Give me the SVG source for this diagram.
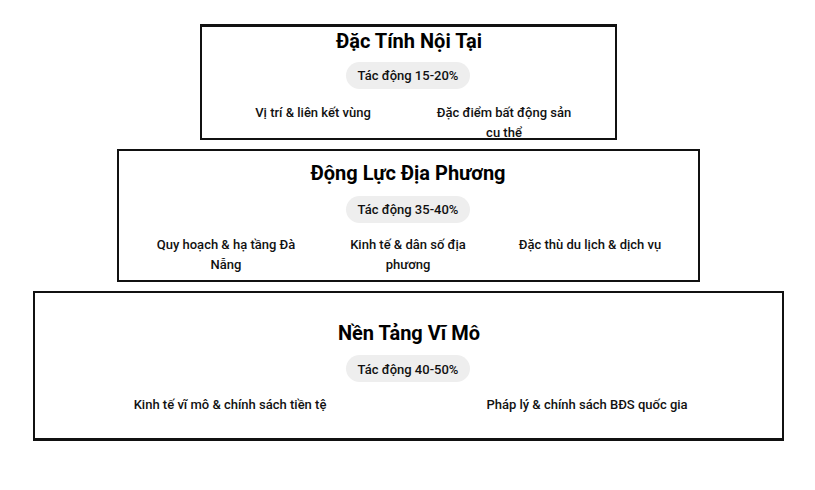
<svg xmlns="http://www.w3.org/2000/svg" width="815" height="490" viewBox="0 0 815 490">
<style>
.box{fill:#ffffff;stroke:#111111;stroke-width:2}
.edge{stroke:#111111;stroke-width:3}
.title{font-family:Roboto,"Noto Sans",sans-serif;font-size:20px;font-weight:700;fill:#000;text-anchor:middle}
.pill{fill:#eeeeee}
.badge{font-family:Roboto,"Noto Sans",sans-serif;font-size:13px;font-weight:500;fill:#111;text-anchor:middle}
.item{font-family:Roboto,"Noto Sans",sans-serif;font-size:13px;font-weight:500;fill:#111;text-anchor:middle}
</style>
<rect width="815" height="490" fill="#ffffff"/>
<g id="connectors"></g>
<g id="tier-top">
<rect class="box" x="201" y="26" width="415" height="113"/>
<line class="edge" x1="200" y1="25.5" x2="617" y2="25.5"/>
<text class="title" x="409" y="47.5">Đặc Tính Nội Tại</text>
<rect class="pill" x="346" y="62" width="124" height="27" rx="13.5"/>
<text class="badge" x="408" y="80">Tác động 15-20%</text>
<text class="item" x="313" y="117">Vị trí &amp; liên kết vùng</text>
<text class="item" x="504" y="117">Đặc điểm bất động sản</text>
<text class="item" x="504" y="137">cụ thể</text>
</g>
<g id="tier-middle">
<rect class="box" x="118" y="150" width="581" height="131"/>
<text class="title" x="408" y="179.5">Động Lực Địa Phương</text>
<rect class="pill" x="346" y="196" width="124" height="27" rx="13.5"/>
<text class="badge" x="408" y="214">Tác động 35-40%</text>
<text class="item" x="226" y="249">Quy hoạch &amp; hạ tầng Đà</text>
<text class="item" x="226" y="269">Nẵng</text>
<text class="item" x="408" y="249">Kinh tế &amp; dân số địa</text>
<text class="item" x="408" y="269">phương</text>
<text class="item" x="590" y="249">Đặc thù du lịch &amp; dịch vụ</text>
</g>
<g id="tier-bottom">
<rect class="box" x="34" y="292" width="749" height="147"/>
<line class="edge" x1="33" y1="439.5" x2="784" y2="439.5"/>
<text class="title" x="409" y="339.5">Nền Tảng Vĩ Mô</text>
<rect class="pill" x="346" y="355" width="124" height="27" rx="13.5"/>
<text class="badge" x="408" y="374">Tác động 40-50%</text>
<text class="item" x="230" y="409">Kinh tế vĩ mô &amp; chính sách tiền tệ</text>
<text class="item" x="587" y="409">Pháp lý &amp; chính sách BĐS quốc gia</text>
</g>
</svg>
